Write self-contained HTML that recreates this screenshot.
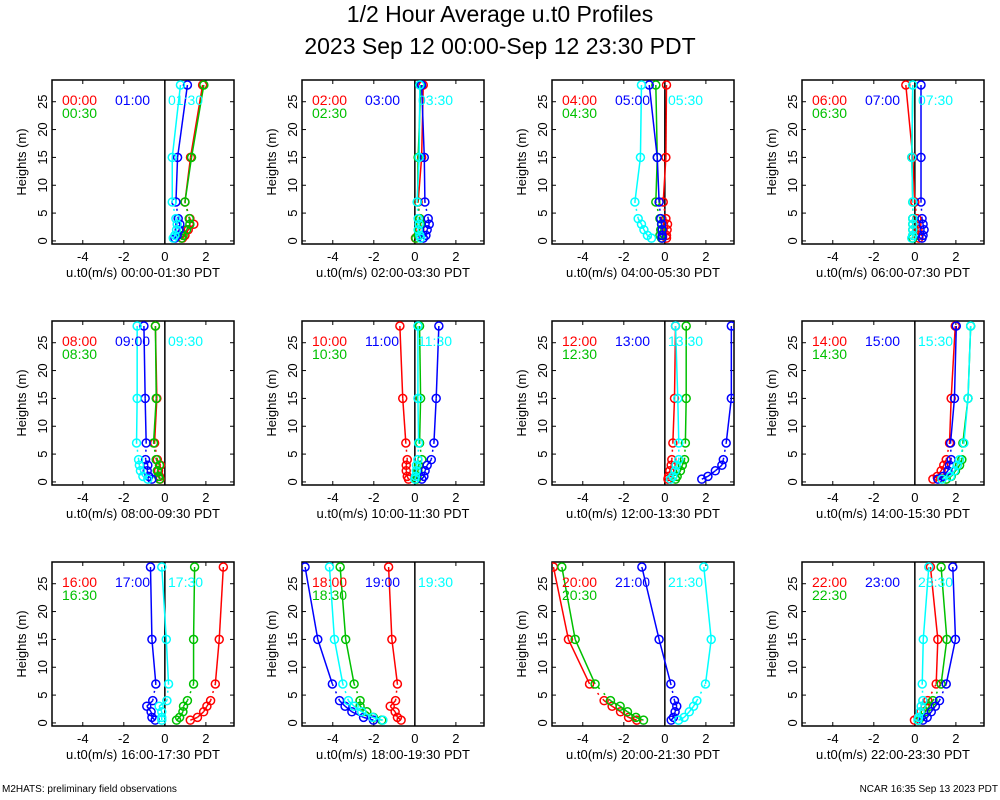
<!DOCTYPE html>
<html><head><meta charset="utf-8"><style>
body{margin:0;background:#fff;}
svg{display:block;font-family:"Liberation Sans",sans-serif;}
</style></head><body>
<svg id="chart" width="1000" height="800" viewBox="0 0 1000 800">
<text x="500" y="22" font-size="23" text-anchor="middle">1/2 Hour Average u.t0 Profiles</text>
<text x="500" y="54" font-size="23" text-anchor="middle">2023 Sep 12 00:00-Sep 12 23:30 PDT</text>
<text x="2" y="792" font-size="10">M2HATS: preliminary field observations</text>
<text x="998" y="792" font-size="10" text-anchor="end">NCAR 16:35 Sep 13 2023 PDT</text>
</svg>
<script>
const heights=[0.5,1,2,3,4,7,15,28];
const panelStarts=["00:00","02:00","04:00","06:00","08:00","10:00","12:00","14:00","16:00","18:00","20:00","22:00"];
const panelLabels=[["00:00","00:30","01:00","01:30"],["02:00","02:30","03:00","03:30"],["04:00","04:30","05:00","05:30"],["06:00","06:30","07:00","07:30"],["08:00","08:30","09:00","09:30"],["10:00","10:30","11:00","11:30"],["12:00","12:30","13:00","13:30"],["14:00","14:30","15:00","15:30"],["16:00","16:30","17:00","17:30"],["18:00","18:30","19:00","19:30"],["20:00","20:30","21:00","21:30"],["22:00","22:30","23:00","23:30"]];
const panelRanges=["00:00-01:30","02:00-03:30","04:00-05:30","06:00-07:30","08:00-09:30","10:00-11:30","12:00-13:30","14:00-15:30","16:00-17:30","18:00-19:30","20:00-21:30","22:00-23:30"];
const redSeries=[
[0.86,0.98,1.14,1.41,1.22,0.98,1.25,1.84],
[0.03,0.16,0.24,0.28,0.24,0.16,0.33,0.41],
[0.08,0.08,0.11,0.13,0.05,-0.08,0.05,0.08],
[0.2,0.2,0.15,0.1,0.1,0,-0.1,-0.44],
[-0.23,-0.26,-0.31,-0.21,-0.37,-0.5,-0.39,-0.46],
[-0.31,-0.37,-0.42,-0.42,-0.37,-0.44,-0.59,-0.73],
[0.15,0.18,0.24,0.31,0.34,0.39,0.47,0.52],
[0.88,1.09,1.28,1.41,1.53,1.69,1.77,1.97],
[1.24,1.59,1.89,2.05,2.23,2.46,2.65,2.85],
[-0.67,-0.85,-0.96,-1.2,-0.94,-0.85,-1.12,-1.28],
[-1.37,-1.77,-2.16,-2.57,-2.96,-3.67,-4.7,-5.43],
[-0.02,0.15,0.3,0.5,0.63,1.04,1.12,0.76]];
const greenSeries=[
[0.81,0.89,1.06,1.22,1.19,0.98,1.3,1.9],
[0.05,0.16,0.21,0.28,0.24,0.13,0.16,0.29],
[-0.16,-0.24,-0.2,-0.16,-0.24,-0.44,-0.37,-0.44],
[-0.1,-0.1,-0.1,-0.1,-0.1,-0.1,-0.15,-0.1],
[-0.26,-0.31,-0.37,-0.26,-0.42,-0.55,-0.42,-0.46],
[0.08,0.11,0.15,0.18,0.34,0.23,0.28,0.23],
[0.52,0.6,0.76,0.85,0.96,1.0,1.04,1.04],
[1.53,1.77,1.98,2.18,2.29,2.34,2.59,2.72],
[0.57,0.72,0.88,0.91,1.1,1.4,1.4,1.45],
[-1.61,-2.02,-2.34,-2.67,-2.67,-2.96,-3.37,-3.64],
[-1.04,-1.41,-1.82,-2.18,-2.65,-3.4,-4.37,-5.02],
[0.18,0.3,0.5,0.72,0.88,1.28,1.56,1.28]];
const blueSeries=[
[0.49,0.6,0.7,0.73,0.65,0.54,0.62,1.1],
[0.41,0.54,0.6,0.7,0.65,0.49,0.46,0.33],
[-0.13,-0.13,-0.13,-0.15,-0.2,-0.28,-0.37,-0.76],
[0.35,0.4,0.45,0.4,0.35,0.3,0.3,0.3],
[-0.63,-0.78,-0.86,-0.83,-0.94,-0.91,-0.96,-1.02],
[0.34,0.44,0.5,0.6,0.8,0.93,1.04,1.17],
[1.8,2.1,2.46,2.78,2.85,2.99,3.24,3.24],
[1.12,1.37,1.61,1.69,1.77,1.74,1.93,2.02],
[-0.47,-0.63,-0.67,-0.88,-0.59,-0.44,-0.63,-0.7],
[-2.02,-2.5,-3.07,-3.4,-3.67,-4.02,-4.73,-5.35],
[0.31,0.42,0.5,0.58,0.47,0.29,-0.28,-1.12],
[0.39,0.6,0.8,1.0,1.2,1.53,1.98,1.85]];
const cyanSeries=[
[0.41,0.49,0.57,0.6,0.54,0.36,0.36,0.76],
[0.28,0.24,0.16,0.21,0.16,0.11,0.21,0.24],
[-0.65,-0.85,-1.02,-1.14,-1.3,-1.46,-1.19,-1.14],
[-0.15,-0.1,-0.1,-0.1,-0.1,-0.1,-0.15,-0.1],
[-0.83,-1.07,-1.19,-1.24,-1.28,-1.38,-1.35,-1.35],
[0,0.03,0.07,0.08,0.15,0.18,0.15,0.15],
[0.28,0.39,0.5,0.55,0.68,0.68,0.63,0.52],
[1.32,1.74,1.93,2.07,2.18,2.39,2.59,2.72],
[-0.15,-0.15,-0.15,-0.28,0.1,0.18,0.07,-0.15],
[-1.56,-2.05,-2.59,-2.96,-3.24,-3.51,-3.92,-4.16],
[0.67,0.94,1.19,1.4,1.56,1.98,2.26,1.9],
[0.15,0.18,0.26,0.31,0.39,0.36,0.41,0.68]];
const xTicks=[-4,-2,0,2];
const yTicks=[0,5,10,15,20,25];
const XMIN=-5.5,XMAX=3.37,YMIN=-0.55,YMAX=28.9;
const colors=["#ff0000","#00c000","#0000ff","#00ffff"];
const NS="http://www.w3.org/2000/svg";
const svg=document.getElementById("chart");
function mk(tag,attrs,parent){const e=document.createElementNS(NS,tag);for(const k in attrs)e.setAttribute(k,attrs[k]);parent.appendChild(e);return e;}
const PW=182,PH=164;
for(let p=0;p<12;p++){
  const col=p%4,row=Math.floor(p/4);
  const L=52+col*250,T=80+row*241;
  const xs=v=>L+(v-XMIN)/(XMAX-XMIN)*PW;
  const ys=h=>T+PH-(h-YMIN)/(YMAX-YMIN)*PH;
  const g=mk("g",{},svg);
  
  
  const clipId="c"+p;
  const cp=mk("clipPath",{id:clipId},g);
  mk("rect",{x:L,y:T,width:PW,height:PH},cp);
  const frame=mk("rect",{x:L,y:T,width:PW,height:PH,fill:"none",stroke:"#000","stroke-width":1.5},g);
  
  
  const zl=mk("line",{x1:xs(0),x2:xs(0),y1:T,y2:T+PH,stroke:"#000","stroke-width":1.5},g);
  
  
  xTicks.forEach(t=>{
    mk("line",{x1:xs(t),x2:xs(t),y1:T+PH,y2:T+PH-4,stroke:"#000"},g);
    mk("line",{x1:xs(t),x2:xs(t),y1:T,y2:T+4,stroke:"#000"},g);
    const tl=mk("text",{x:xs(t),y:T+PH+17,"font-size":13,"text-anchor":"middle"},g);
    tl.textContent=t;
    
    
  });
  yTicks.forEach(t=>{
    mk("line",{x1:L,x2:L+4,y1:ys(t),y2:ys(t),stroke:"#000"},g);
    mk("line",{x1:L+PW,x2:L+PW-4,y1:ys(t),y2:ys(t),stroke:"#000"},g);
    const tl=mk("text",{x:L-5,y:ys(t),"font-size":13,"text-anchor":"middle",transform:`rotate(-90 ${L-5} ${ys(t)})`,dy:0},g);
    tl.textContent=t;
    
    
  });
  const xt=mk("text",{x:L+PW/2,y:T+PH+33,"font-size":13,"text-anchor":"middle"},g);
  xt.textContent="u.t0(m/s) "+panelRanges[p]+" PDT";
  
  
  const yx=L-26,yy=T+PH/2;
  const yt=mk("text",{x:yx,y:yy,"font-size":13,"text-anchor":"middle",transform:`rotate(-90 ${yx} ${yy})`},g);
  yt.textContent="Heights (m)";
  
  
  const lpos=[[L+10,T+25],[L+10,T+38],[L+63,T+25],[L+116,T+25]];
  const sers=[redSeries[p],greenSeries[p],blueSeries[p],cyanSeries[p]];
  const data=mk("g",{"clip-path":`url(#${clipId})`},g);
  sers.forEach((s,si)=>{
    const sg=mk("g",{},data);
    
    
    for(let i=0;i<s.length-1;i++){
      const dashed=heights[i]===4;
      mk("line",{x1:xs(s[i]),y1:ys(heights[i]),x2:xs(s[i+1]),y2:ys(heights[i+1]),stroke:colors[si],"stroke-width":1.5,"stroke-dasharray":dashed?"2,6":"none"},sg);
    }
    s.forEach((v,i)=>{
      const c=mk("circle",{cx:xs(v),cy:ys(heights[i]),r:4,fill:"none",stroke:colors[si],"stroke-width":1.5},sg);
      
      
    });
  });
  sers.forEach((s,si)=>{
    const lt=mk("text",{x:lpos[si][0],y:lpos[si][1],"font-size":14,fill:colors[si]},g);
    lt.textContent=panelLabels[p][si];
    
    
  });
}
</script>
</body></html>
